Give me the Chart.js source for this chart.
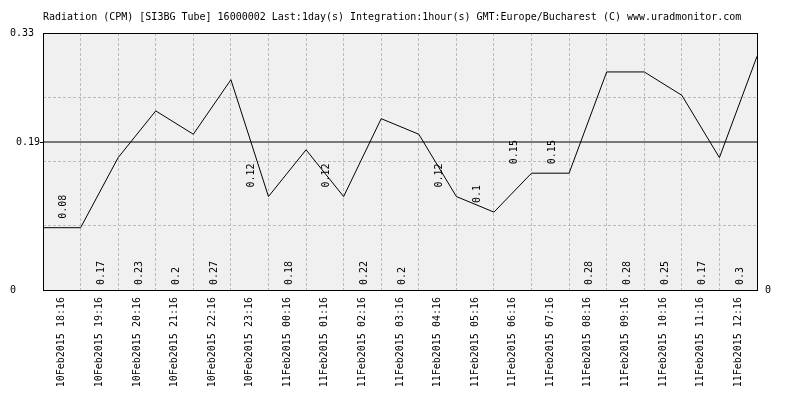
<!DOCTYPE html>
<html>
<head>
<meta charset="utf-8">
<script src="https://cdn.jsdelivr.net/npm/chart.js@4"></script>
<style>
  html, body { margin: 0; padding: 0; background: #fff; }
  #espaco { width: 800px; height: 400px; }
</style>
</head>
<body>
<div id="espaco"><canvas id="grafico" width="800" height="400"></canvas></div>
<script>
// dados
const titulo = 'Radiation (CPM) [SI3BG Tube] 16000002 Last:1day(s) Integration:1hour(s) GMT:Europe/Bucharest (C) www.uradmonitor.com';
const horas = [
    '10Feb2015 18:16', '10Feb2015 19:16', '10Feb2015 20:16', '10Feb2015 21:16',
    '10Feb2015 22:16', '10Feb2015 23:16', '11Feb2015 00:16', '11Feb2015 01:16',
    '11Feb2015 02:16', '11Feb2015 03:16', '11Feb2015 04:16', '11Feb2015 05:16',
    '11Feb2015 06:16', '11Feb2015 07:16', '11Feb2015 08:16', '11Feb2015 09:16',
    '11Feb2015 10:16', '11Feb2015 11:16', '11Feb2015 12:16'
];
const valores = [0.08, 0.17, 0.23, 0.2, 0.27, 0.12, 0.18, 0.12, 0.22, 0.2, 0.12, 0.1, 0.15, 0.15, 0.28, 0.28, 0.25, 0.17, 0.3];
const media = 0.19;
const yMax = 0.33;
const yGrade = [0, 0.0825, 0.165, 0.2475, 0.33];

const fonte = '"DejaVu Sans Mono", monospace';
Chart.defaults.font.family = fonte;
Chart.defaults.font.size = 10;
Chart.defaults.color = '#000';

// a linha começa na borda esquerda e cada valor fica no fim da sua hora
const pontos = [{ x: 0, y: valores[0] }].concat(valores.map((v, i) => ({ x: i + 1, y: v })));

// fundo cinza da área do gráfico
const fundo = {
    id: 'fundo',
    beforeDraw(chart) {
        const { ctx, chartArea: a } = chart;
        ctx.save();
        ctx.fillStyle = '#f0f0f0';
        ctx.fillRect(a.left, a.top, a.right - a.left, a.bottom - a.top);
        ctx.restore();
    }
};

// moldura preta
const moldura = {
    id: 'moldura',
    afterDraw(chart) {
        const { ctx, chartArea: a } = chart;
        ctx.save();
        ctx.strokeStyle = '#000';
        ctx.lineWidth = 1;
        ctx.strokeRect(Math.round(a.left) + 0.5, Math.round(a.top) + 0.5,
            Math.round(a.right - a.left), Math.round(a.bottom - a.top));
        ctx.restore();
    }
};

// rótulos verticais com o valor de cada hora
const rotulos = {
    id: 'rotulos',
    afterDatasetsDraw(chart) {
        const { ctx, chartArea: a } = chart;
        const xs = chart.scales.x;
        const ys = chart.scales.y;
        ctx.save();
        ctx.font = '10px ' + fonte;
        ctx.fillStyle = '#000';
        ctx.textAlign = 'left';
        ctx.textBaseline = 'middle';
        valores.forEach((v, i) => {
            const cx = xs.getPixelForValue(i + 0.5) + 2;
            const cy = v < 0.16 ? ys.getPixelForValue(v) - 9 : a.bottom - 5;
            ctx.save();
            ctx.translate(cx, cy);
            ctx.rotate(-Math.PI / 2);
            ctx.fillText(String(v), 0, 0);
            ctx.restore();
        });
        ctx.restore();
    }
};

const ehMedia = c => c.tick && c.tick.value === media;

new Chart(document.getElementById('grafico'), {
    type: 'line',
    data: {
        datasets: [{
            label: 'CPM',
            data: pontos,
            xAxisID: 'x',
            yAxisID: 'y',
            borderColor: '#000',
            borderWidth: 1,
            pointRadius: 0,
            tension: 0,
            fill: false
        }, {
            label: 'Média',
            data: [{ x: 0, y: media }, { x: horas.length, y: media }],
            xAxisID: 'x',
            yAxisID: 'y',
            borderColor: '#000',
            borderWidth: 1,
            pointRadius: 0,
            fill: false
        }]
    },
    options: {
        responsive: false,
        animation: false,
        layout: { padding: { left: 10 } },
        plugins: {
            legend: { display: false },
            tooltip: { enabled: false },
            title: {
                display: true,
                text: titulo,
                align: 'start',
                fullSize: false,
                color: '#000',
                font: { family: fonte, size: 10, weight: 'normal', lineHeight: 1.2 },
                padding: { top: 11, bottom: 10 }
            }
        },
        scales: {
            x: {
                type: 'linear',
                position: 'bottom',
                weight: 0,
                min: 0,
                max: horas.length,
                ticks: { display: false, stepSize: 1 },
                grid: { color: '#bcbcbc', drawTicks: false },
                border: { display: false, dash: [3, 2] },
                afterFit(scale) { scale.height = 0; }
            },
            xl: {
                type: 'category',
                position: 'bottom',
                weight: 1,
                labels: horas,
                offset: true,
                grid: { display: false, drawTicks: false },
                border: { display: false },
                ticks: { autoSkip: false, minRotation: 90, maxRotation: 90, padding: 7 },
                afterFit(scale) { scale.height = 110; }
            },
            y: {
                type: 'linear',
                position: 'left',
                min: 0,
                max: yMax,
                afterBuildTicks(scale) {
                    scale.ticks = yGrade.concat([media]).sort((a, b) => a - b).map(v => ({ value: v }));
                },
                ticks: {
                    padding: 0,
                    autoSkip: false,
                    // texto monoespaçado: espaços à direita empurram 0 e 0.33 para a esquerda
                    callback: v => v === media ? v.toFixed(2) : v === yMax ? v + ' ' : v === 0 ? '0    ' : ''
                },
                grid: {
                    color: c => ehMedia(c) ? 'rgba(0,0,0,0)' : '#bcbcbc',
                    tickColor: c => ehMedia(c) ? '#000' : 'rgba(0,0,0,0)',
                    tickLength: 3
                },
                border: { display: false, dash: [3, 2] },
                afterFit(scale) { scale.width = 33; }
            },
            y2: {
                type: 'linear',
                position: 'right',
                min: 0,
                max: yMax,
                afterBuildTicks(scale) { scale.ticks = [{ value: 0 }]; },
                ticks: { padding: 8, callback: v => String(v) },
                grid: { display: false, drawTicks: false },
                border: { display: false },
                afterFit(scale) { scale.width = 43; }
            }
        }
    },
    plugins: [fundo, rotulos, moldura]
});
</script>
</body>
</html>
